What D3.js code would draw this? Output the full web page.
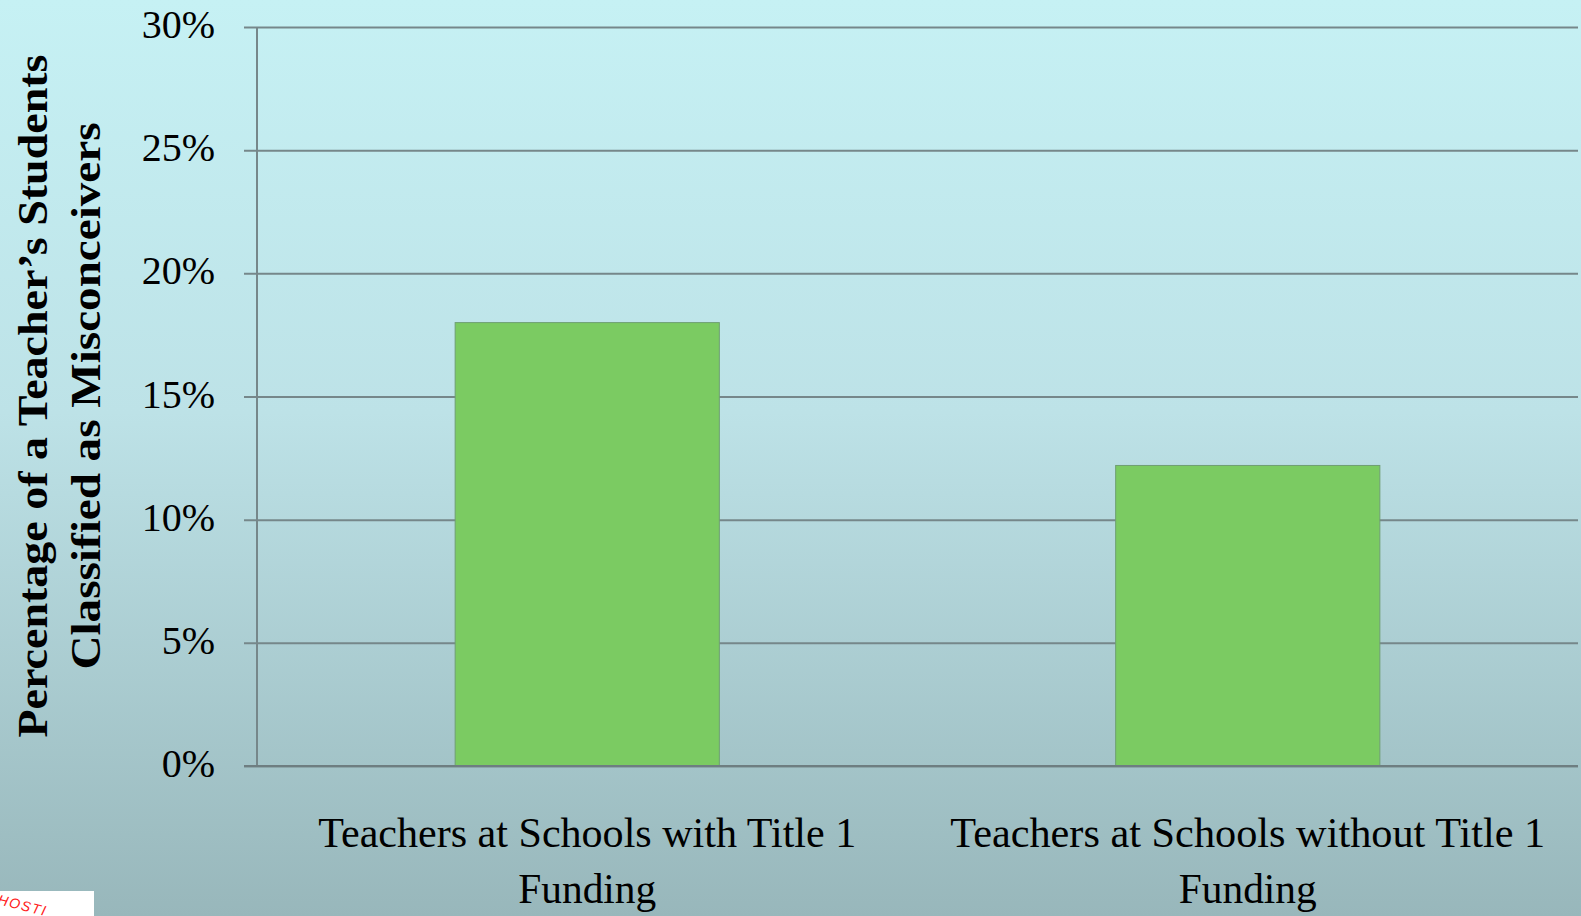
<!DOCTYPE html>
<html>
<head>
<meta charset="utf-8">
<script src="https://cdn.jsdelivr.net/npm/d3@7"></script>
<style>
  html, body { margin: 0; padding: 0; overflow: hidden; }
  svg { display: block; }
</style>
</head>
<body>
<svg id="chart" width="1581" height="916"></svg>
<script>
// Share of each teacher's students classified as misconceivers
const categories = [
  "Teachers at Schools with Title 1 Funding",
  "Teachers at Schools without Title 1 Funding"
];
const categoryLines = [
  ["Teachers at Schools with Title 1", "Funding"],
  ["Teachers at Schools without Title 1", "Funding"]
];
const values = [18, 12.2];
const tickValues = [0, 5, 10, 15, 20, 25, 30];
const tickLabels = ["0%", "5%", "10%", "15%", "20%", "25%", "30%"];
const yTitleLines = ["Percentage of a Teacher\u2019s Students", "Classified as Misconceivers"];

const W = 1581, H = 916;
const plot = { left: 257, right: 1578, top: 27, bottom: 766 };
const serif = "'Liberation Serif', 'DejaVu Serif', serif";

const svg = d3.select("#chart");

// background gradient
const defs = svg.append("defs");
const grad = defs.append("linearGradient")
  .attr("id", "bg").attr("x1", 0).attr("y1", 0).attr("x2", 0).attr("y2", 1);
grad.append("stop").attr("offset", "0%").attr("stop-color", "#c6f1f4");
grad.append("stop").attr("offset", "45%").attr("stop-color", "#bde2e7");
grad.append("stop").attr("offset", "100%").attr("stop-color", "#98b7bb");
svg.append("rect").attr("width", W).attr("height", H).attr("fill", "url(#bg)");

const x = d3.scaleBand()
  .domain(categories)
  .range([plot.left, plot.right])
  .paddingInner(0.6)
  .paddingOuter(0.3);

const y = d3.scaleLinear()
  .domain([0, 30])
  .range([plot.bottom, plot.top]);

// gridlines with outward ticks
const yAxis = d3.axisLeft(y)
  .tickValues(tickValues)
  .tickSize(-(plot.right - plot.left))
  .tickFormat("");
const gy = svg.append("g")
  .attr("transform", `translate(${plot.left},0)`)
  .call(yAxis);
gy.select(".domain").remove();
gy.selectAll(".tick line")
  .attr("x1", -13)
  .attr("stroke", "#76878a")
  .attr("stroke-width", 2);

// vertical axis line
svg.append("line")
  .attr("x1", plot.left).attr("x2", plot.left)
  .attr("y1", y(30)).attr("y2", y(0))
  .attr("stroke", "#76878a").attr("stroke-width", 2);

// tick labels
svg.append("g").selectAll("text")
  .data(tickValues)
  .join("text")
  .attr("x", 215)
  .attr("y", d => y(d) + 11)
  .attr("text-anchor", "end")
  .attr("font-family", serif)
  .attr("font-size", 40)
  .attr("fill", "#000")
  .text((d, i) => tickLabels[i]);

// bars
svg.append("g").selectAll("rect")
  .data(values)
  .join("rect")
  .attr("x", (d, i) => x(categories[i]))
  .attr("y", d => y(d))
  .attr("width", x.bandwidth())
  .attr("height", d => y(0) - y(d))
  .attr("fill", "#7bcb62")
  .attr("stroke", "#6f9f72")
  .attr("stroke-width", 1);

// redraw baseline over bars
svg.append("line")
  .attr("x1", plot.left - 13).attr("x2", plot.right)
  .attr("y1", y(0)).attr("y2", y(0))
  .attr("stroke", "#6e7e81").attr("stroke-width", 2);

// category labels
const lineWidths = [[538, 138], [595, 138]];
const cat = svg.append("g").selectAll("g")
  .data(categories)
  .join("g")
  .attr("transform", d => `translate(${x(d) + x.bandwidth() / 2},0)`);
cat.each(function(d, i) {
  const g = d3.select(this);
  categoryLines[i].forEach((line, j) => {
    g.append("text")
      .attr("x", 0)
      .attr("y", 847 + j * 56)
      .attr("text-anchor", "middle")
      .attr("font-family", serif)
      .attr("font-size", 42)
      .attr("fill", "#000")
      .attr("textLength", lineWidths[i][j])
      .attr("lengthAdjust", "spacingAndGlyphs")
      .text(line);
  });
});

// rotated y-axis title
const titleWidths = [683, 547];
const titleBase = [47, 100];
yTitleLines.forEach((line, j) => {
  svg.append("text")
    .attr("transform", `translate(${titleBase[j]},396) rotate(-90)`)
    .attr("text-anchor", "middle")
    .attr("font-family", serif)
    .attr("font-weight", "bold")
    .attr("font-size", 43)
    .attr("fill", "#000")
    .attr("textLength", titleWidths[j])
    .attr("lengthAdjust", "spacingAndGlyphs")
    .text(line);
});

// corner badge
const badge = svg.append("g");
defs.append("clipPath").attr("id", "badgeClip")
  .append("rect").attr("x", 0).attr("y", 891).attr("width", 94).attr("height", 25);
badge.append("rect")
  .attr("x", 0).attr("y", 891).attr("width", 94).attr("height", 25)
  .attr("fill", "#ffffff");
badge.append("g")
  .attr("clip-path", "url(#badgeClip)")
  .append("text")
  .attr("transform", "translate(-3,904) rotate(14)")
  .attr("font-family", "'Liberation Sans', sans-serif")
  .attr("font-style", "italic")
  .attr("font-size", 14)
  .attr("letter-spacing", 1.5)
  .attr("fill", "#ff2020")
  .text("HOSTI");
</script>
</body>
</html>
